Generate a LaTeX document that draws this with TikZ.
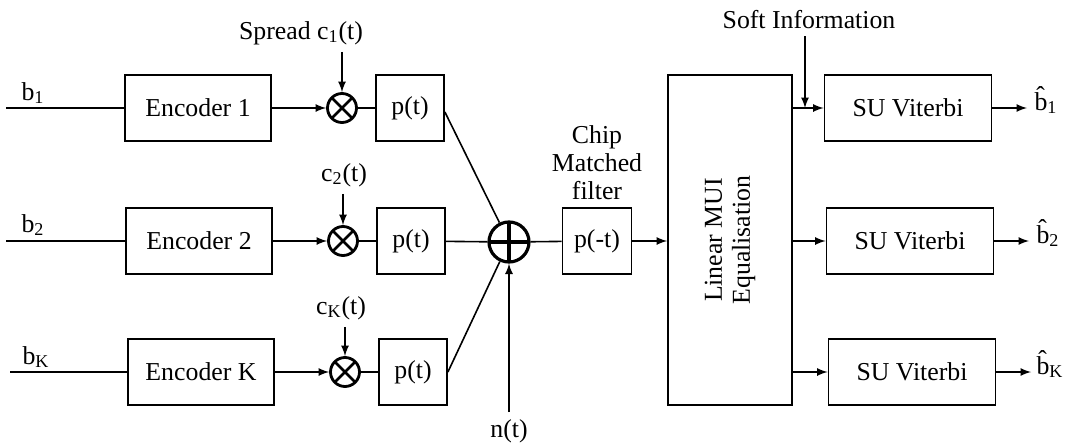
\documentclass[tikz,border=0pt]{standalone}
\usepackage{fontspec}
\setmainfont{Liberation Serif}
\usetikzlibrary{arrows,positioning,calc}

\begin{document}
\begin{tikzpicture}[x=0.5pt,y=-0.5pt,
  every node/.style={font=\fontsize{12.9}{14}\selectfont},
  blk/.style={draw, line width=0.9pt, inner sep=0pt},
  mixer/.style={draw, circle, line width=1.4pt, minimum size=14.5pt, inner sep=0pt,
    path picture={\draw[line width=1.4pt] (path picture bounding box.north west) -- (path picture bounding box.south east)
      (path picture bounding box.south west) -- (path picture bounding box.north east);}},
  summer/.style={draw, circle, line width=1.6pt, minimum size=20pt, inner sep=0pt,
    path picture={\draw[line width=1.8pt] (path picture bounding box.north) -- (path picture bounding box.south)
      (path picture bounding box.west) -- (path picture bounding box.east);}},
  wire/.style={line width=0.8pt},
  sig/.style={line width=0.8pt, -latex}]
\useasboundingbox (0,0) rectangle (1072,445);

\node [blk, minimum width=73pt, minimum height=33pt] (enc1) at (198,108) {Encoder 1};
\node [blk, minimum width=73pt, minimum height=33pt] (enc2) at (199,241) {Encoder 2};
\node [blk, minimum width=73pt, minimum height=33pt] (encK) at (201,372) {Encoder K};

\node [mixer] (mix1) at (342,108) {};
\node [mixer] (mix2) at (343,241) {};
\node [mixer] (mixK) at (345,372) {};

\node [blk, minimum width=34pt, minimum height=33pt] (pt1) at (410,108) {p(t)};
\node [blk, minimum width=34pt, minimum height=33pt] (pt2) at (411,241) {p(t)};
\node [blk, minimum width=34pt, minimum height=33pt] (ptK) at (413,372) {p(t)};

\node [summer] (add) at (509,242) {};
\node [blk, minimum width=34.5pt, minimum height=33pt] (mf) at (597,241) {p(-t)};
\node [align=center, above=0pt of mf] (mflab) {Chip\\Matched\\filter};
\node (noise) at (509,431) {n(t)};

\node [blk, minimum width=62pt, minimum height=165pt] (eq) at (730,240) {};
\node [rotate=90, align=center] (eqlab) at (eq) {Linear MUI\\Equalisation};

\node [blk, minimum width=83.5pt, minimum height=33pt] (vit1) at (908,108) {SU Viterbi};
\node [blk, minimum width=83.5pt, minimum height=33pt] (vit2) at (910,241) {SU Viterbi};
\node [blk, minimum width=83.5pt, minimum height=33pt] (vitK) at (912,372) {SU Viterbi};

\node (b1) at (33,93) {b\textsubscript{1}};
\node (b2) at (33,225) {b\textsubscript{2}};
\node (bK) at (36,357) {b\textsubscript{K}};
\coordinate (in1) at (6,108);
\coordinate (in2) at (6,241);
\coordinate (inK) at (10,372);

\node (c1) at (301,33) {Spread c\textsubscript{1}(t)};
\node (c2) at (344,175) {c\textsubscript{2}(t)};
\node (cK) at (341,308) {c\textsubscript{K}(t)};

\node (soft) at (809,20) {Soft Information};
\coordinate (tap) at (805,108);

\coordinate (o1) at (1027,108);
\coordinate (o2) at (1029,241);
\coordinate (oK) at (1031,372);
\node (bh1) at (1046,100) {\^{b}\textsubscript{1}};
\node (bh2) at (1048,233) {\^{b}\textsubscript{2}};
\node (bhK) at (1050,364) {\^{b}\textsubscript{K}};

\draw [wire] (in1) -- (enc1);
\draw [wire] (in2) -- (enc2);
\draw [wire] (inK) -- (encK);
\draw [sig] (enc1) -- (mix1);
\draw [sig] (enc2) -- (mix2);
\draw [sig] (encK) -- (mixK);
\draw [sig] (c1.south -| mix1) -- (mix1);
\draw [sig] (c2.south -| mix2) -- (mix2);
\draw [sig] (cK.south -| mixK) -- (mixK);
\draw [wire] (mix1) -- (pt1);
\draw [wire] (mix2) -- (pt2);
\draw [wire] (mixK) -- (ptK);

\draw [wire] ($(pt1.east)+(0,4)$) -- (add);
\draw [wire] (pt2) -- (add);
\draw [wire] (ptK.east) -- (add);
\draw [sig] (noise.north) -- (add);
\draw [wire] (add) -- (mf);
\draw [sig] (mf) -- (mf -| eq.west);

\draw [sig] (eq.east |- vit1) -- (vit1);
\draw [sig] (eq.east |- vit2) -- (vit2);
\draw [sig] (eq.east |- vitK) -- (vitK);
\draw [sig] (soft.south -| tap) -- (tap);

\draw [sig] (vit1) -- (o1);
\draw [sig] (vit2) -- (o2);
\draw [sig] (vitK) -- (oK);
\end{tikzpicture}
\end{document}
